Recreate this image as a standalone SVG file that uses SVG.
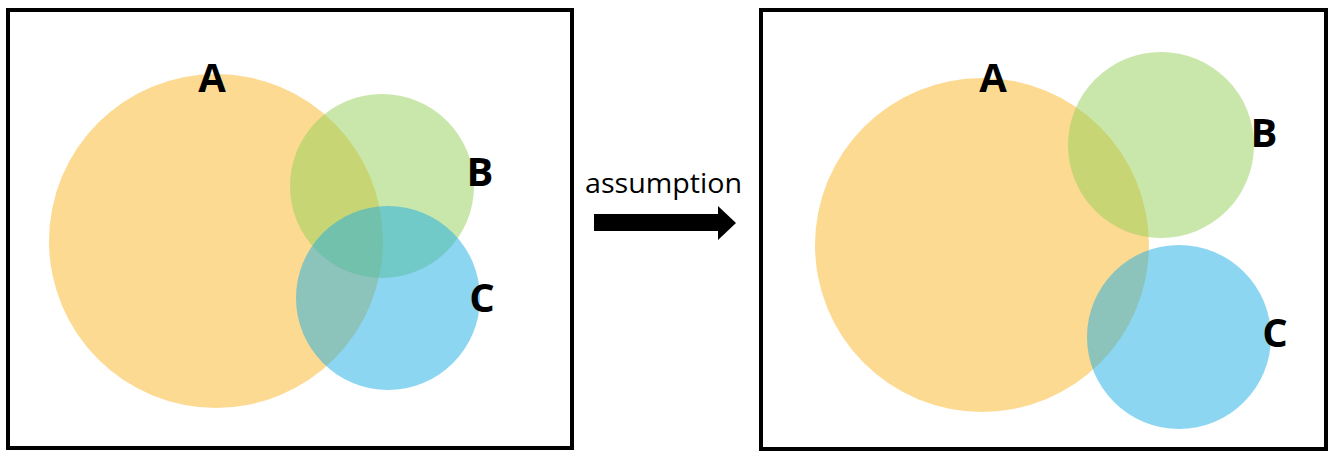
<svg xmlns="http://www.w3.org/2000/svg" width="1334" height="458" viewBox="0 0 1334 458">
<style>
.frame{fill:none;stroke:#000;stroke-width:4}
.a{fill:#FBB525;fill-opacity:0.5}
.b{fill:#93CF57;fill-opacity:0.5}
.c{fill:#1BADE5;fill-opacity:0.5}
.lbl{font-family:"Open Sans","Liberation Sans",sans-serif;font-weight:bold;font-size:40px;text-anchor:middle;fill:#000}
.cap{font-family:"Open Sans","Liberation Sans",sans-serif;font-size:27px;fill:#000}
</style>
<rect width="1334" height="458" fill="#fff"/>
<g id="left-panel">
<rect class="frame" x="8" y="10" width="564" height="438"/>
<g id="left-A"><circle class="a" cx="216" cy="241" r="167"/><text class="lbl" x="212" y="92">A</text></g>
<g id="left-B"><circle class="b" cx="382" cy="186" r="92"/><text class="lbl" x="480" y="186">B</text></g>
<g id="left-C"><circle class="c" cx="388" cy="298" r="92"/><text class="lbl" x="482" y="312">C</text></g>
</g>
<g id="right-panel">
<rect class="frame" x="761" y="10" width="565" height="439"/>
<g id="right-A"><circle class="a" cx="982" cy="245" r="167"/><text class="lbl" x="993" y="92">A</text></g>
<g id="right-B"><circle class="b" cx="1161" cy="145" r="93"/><text class="lbl" x="1264" y="147">B</text></g>
<g id="right-C"><circle class="c" cx="1179" cy="337" r="92"/><text class="lbl" x="1275" y="347">C</text></g>
</g>
<g id="connectors">
<text class="cap" x="585" y="193" textLength="157" lengthAdjust="spacingAndGlyphs">assumption</text>
<polygon points="594,214 718,214 718,206 736,223 718,240 718,231 594,231" fill="#000"/>
</g>
</svg>
